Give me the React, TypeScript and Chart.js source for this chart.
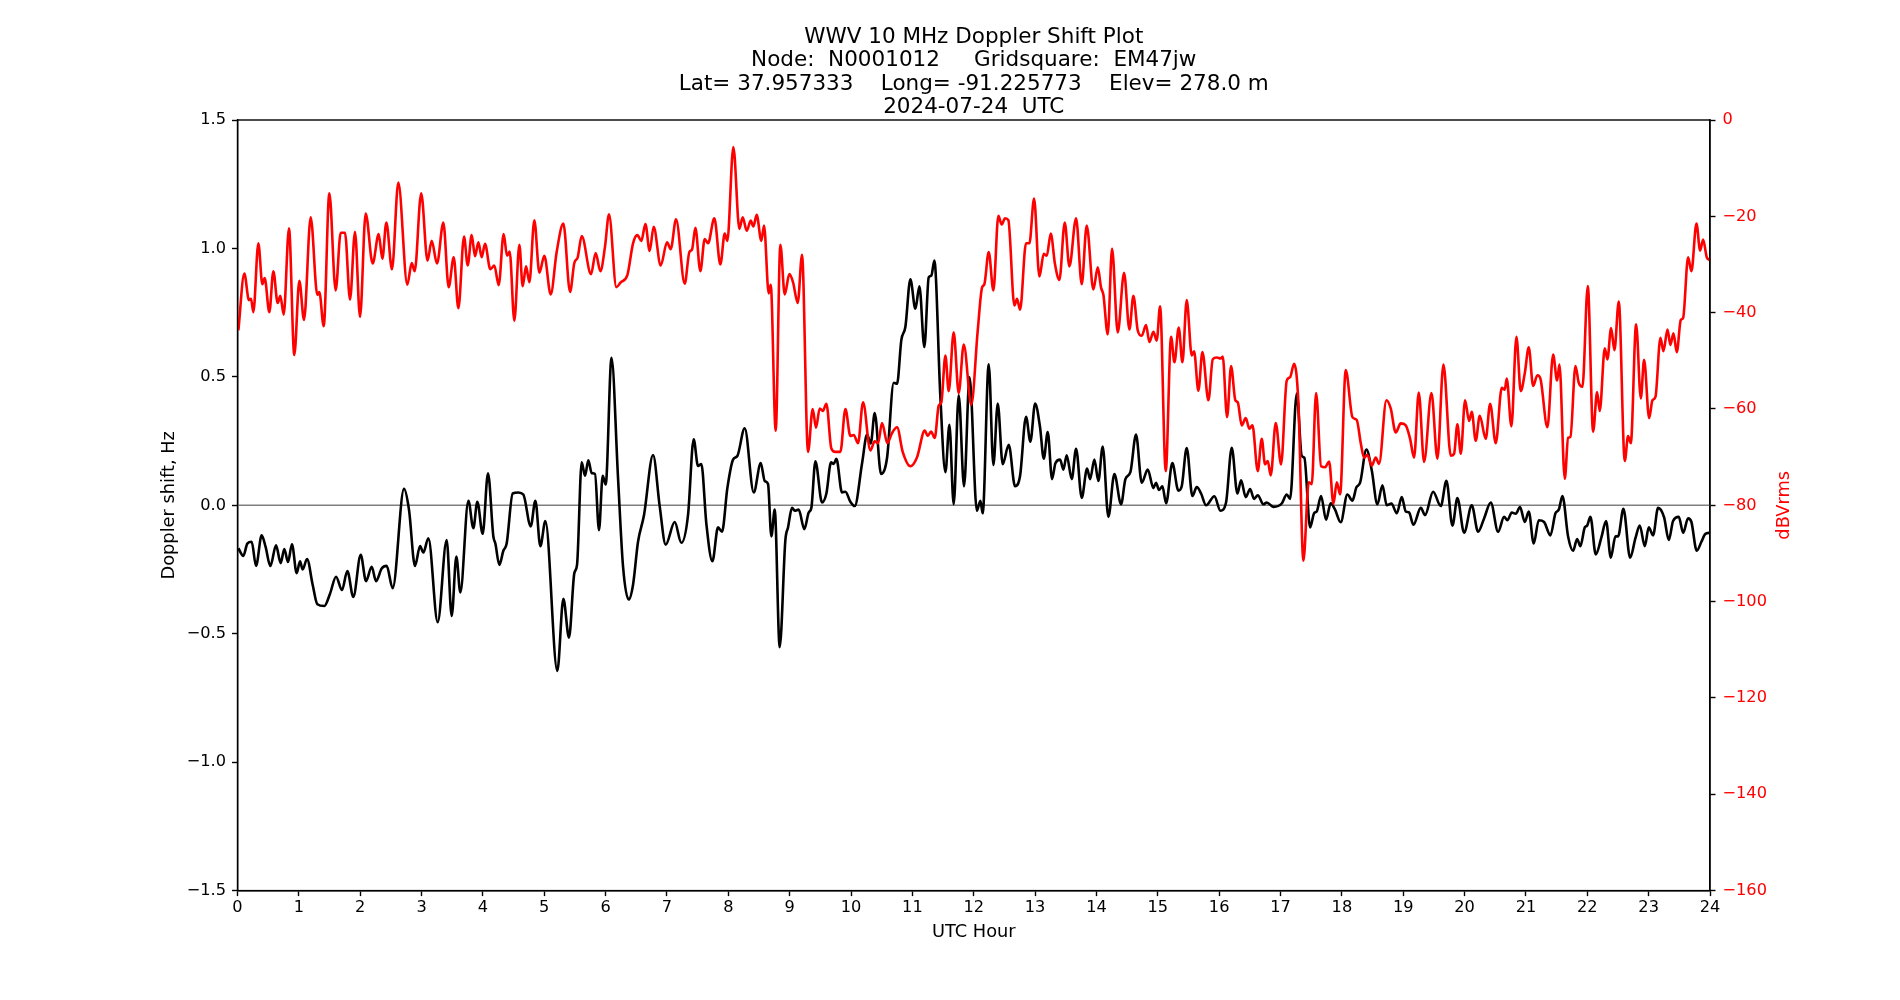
import React, { useEffect, useRef } from "react";
import { Chart, registerables } from "chart.js";

Chart.register(...registerables);

// ---------- text ----------
const titleLines = [
  "WWV 10 MHz Doppler Shift Plot",
  "Node:  N0001012     Gridsquare:  EM47jw",
  "Lat= 37.957333    Long= -91.225773    Elev= 278.0 m",
  "2024-07-24  UTC",
];
const xAxisLabel = "UTC Hour";
const leftAxisLabel = "Doppler shift, Hz";
const rightAxisLabel = "dBVrms";

// ---------- tick values / labels ----------
const xTickValues = [0, 1, 2, 3, 4, 5, 6, 7, 8, 9, 10, 11, 12, 13, 14, 15, 16, 17, 18, 19, 20, 21, 22, 23, 24];
const xTickLabels = ["0", "1", "2", "3", "4", "5", "6", "7", "8", "9", "10", "11", "12", "13", "14", "15", "16", "17", "18", "19", "20", "21", "22", "23", "24"];
const leftTickValues = [-1.5, -1.0, -0.5, 0.0, 0.5, 1.0, 1.5];
const leftTickLabels = ["\u22121.5", "\u22121.0", "\u22120.5", "0.0", "0.5", "1.0", "1.5"];
const rightTickValues = [-160, -140, -120, -100, -80, -60, -40, -20, 0];
const rightTickLabels = ["\u2212160", "\u2212140", "\u2212120", "\u2212100", "\u221280", "\u221260", "\u221240", "\u221220", "0"];

// ---------- Doppler shift series (black, left axis) ----------
const dopplerHours = [
  0.014, 0.095, 0.160, 0.231, 0.302, 0.394, 0.459, 0.535, 0.628, 0.704, 0.763, 0.823, 0.888, 0.964,
  1.019, 1.062, 1.133, 1.225, 1.301, 1.415, 1.508, 1.606, 1.703, 1.790, 1.888, 2.008, 2.095, 2.187,
  2.258, 2.350, 2.431, 2.529, 2.714, 2.795, 2.893, 2.975, 3.029, 3.111, 3.263, 3.409, 3.491, 3.567,
  3.632, 3.763, 3.844, 3.909, 3.996, 4.083, 4.170, 4.203, 4.268, 4.333, 4.387, 4.485, 4.578, 4.659,
  4.779, 4.855, 4.936, 5.018, 5.213, 5.311, 5.403, 5.490, 5.534, 5.610, 5.664, 5.718, 5.773, 5.827,
  5.892, 5.952, 6.001, 6.096, 6.202, 6.284, 6.376, 6.447, 6.528, 6.626, 6.773, 6.881, 6.979, 7.126,
  7.234, 7.343, 7.435, 7.506, 7.560, 7.642, 7.740, 7.832, 7.897, 7.984, 8.077, 8.147, 8.267, 8.414,
  8.528, 8.593, 8.647, 8.701, 8.756, 8.837, 8.930, 8.973, 9.038, 9.082, 9.147, 9.239, 9.310, 9.353,
  9.419, 9.527, 9.598, 9.674, 9.718, 9.761, 9.853, 9.908, 9.989, 10.060, 10.180, 10.261, 10.321,
  10.386, 10.489, 10.587, 10.696, 10.750, 10.820, 10.886, 10.967, 11.049, 11.114, 11.195, 11.266,
  11.309, 11.358, 11.456, 11.538, 11.603, 11.673, 11.755, 11.842, 11.932, 12.051, 12.108, 12.146,
  12.244, 12.320, 12.391, 12.472, 12.570, 12.673, 12.755, 12.852, 12.923, 13.000, 13.081, 13.141,
  13.206, 13.276, 13.331, 13.407, 13.461, 13.515, 13.597, 13.668, 13.760, 13.847, 13.896, 13.966,
  14.031, 14.102, 14.194, 14.292, 14.401, 14.472, 14.553, 14.645, 14.738, 14.836, 14.928, 14.971,
  15.020, 15.075, 15.135, 15.237, 15.335, 15.390, 15.471, 15.564, 15.634, 15.705, 15.787, 15.922,
  16.020, 16.112, 16.205, 16.297, 16.357, 16.433, 16.504, 16.569, 16.629, 16.721, 16.775, 16.884,
  17.020, 17.101, 17.156, 17.265, 17.346, 17.389, 17.482, 17.547, 17.590, 17.661, 17.742, 17.818,
  17.889, 17.981, 18.090, 18.172, 18.237, 18.297, 18.400, 18.487, 18.579, 18.661, 18.731, 18.808,
  18.895, 18.976, 19.041, 19.095, 19.166, 19.286, 19.356, 19.487, 19.612, 19.704, 19.802, 19.883,
  19.992, 20.117, 20.220, 20.318, 20.427, 20.546, 20.644, 20.698, 20.769, 20.834, 20.904, 20.981,
  21.046, 21.127, 21.209, 21.296, 21.399, 21.481, 21.535, 21.595, 21.687, 21.769, 21.834, 21.888,
  21.959, 21.997, 22.051, 22.138, 22.230, 22.306, 22.383, 22.459, 22.502, 22.589, 22.698, 22.785,
  22.855, 22.937, 23.002, 23.072, 23.154, 23.252, 23.328, 23.398, 23.491, 23.562, 23.643, 23.697,
  23.784, 23.860, 23.925, 23.997,
];
const dopplerHz = [
  -0.167, -0.197, -0.149, -0.142, -0.236, -0.117, -0.163, -0.236, -0.156, -0.225, -0.170, -0.221, -0.152, -0.264,
  -0.218, -0.250, -0.209, -0.309, -0.385, -0.392, -0.344, -0.278, -0.330, -0.256, -0.357, -0.193, -0.295, -0.239,
  -0.295, -0.246, -0.236, -0.323, 0.064, -0.017, -0.236, -0.159, -0.184, -0.128, -0.455, -0.135, -0.431, -0.200,
  -0.339, 0.018, -0.089, 0.014, -0.111, 0.125, -0.121, -0.149, -0.232, -0.177, -0.149, 0.046, 0.050, 0.042,
  -0.082, 0.018, -0.159, -0.061, -0.645, -0.364, -0.515, -0.264, -0.232, 0.167, 0.115, 0.175, 0.125, 0.122,
  -0.097, 0.115, 0.081, 0.574, 0.108, -0.239, -0.367, -0.309, -0.142, -0.038, 0.196, -0.003, -0.153, -0.065,
  -0.146, -0.038, 0.257, 0.153, 0.161, -0.072, -0.218, -0.086, -0.103, 0.067, 0.178, 0.192, 0.300, 0.050,
  0.164, 0.095, 0.083, -0.121, -0.017, -0.552, -0.135, -0.086, -0.010, -0.021, -0.017, -0.093, -0.028, -0.010,
  0.171, 0.011, 0.046, 0.167, 0.161, 0.181, 0.050, 0.053, 0.014, -0.003, 0.164, 0.275, 0.241,
  0.359, 0.122, 0.185, 0.477, 0.473, 0.644, 0.695, 0.880, 0.765, 0.853, 0.616, 0.887,
  0.894, 0.953, 0.421, 0.129, 0.313, 0.004, 0.428, 0.074, 0.498, -0.021, 0.018, -0.031,
  0.549, 0.157, 0.396, 0.160, 0.236, 0.074, 0.115, 0.345, 0.248, 0.396, 0.303, 0.181,
  0.285, 0.102, 0.164, 0.178, 0.139, 0.195, 0.102, 0.220, 0.029, 0.143, 0.102, 0.178,
  0.095, 0.229, -0.045, 0.122, 0.004, 0.102, 0.129, 0.275, 0.088, 0.139, 0.067, 0.088,
  0.060, 0.074, 0.008, 0.164, 0.057, 0.074, 0.223, 0.036, 0.071, 0.046, 0.000, 0.035,
  -0.021, 0.011, 0.224, 0.046, 0.097, 0.032, 0.063, 0.025, 0.039, 0.004, 0.011, -0.006,
  0.007, 0.042, 0.025, 0.435, 0.192, 0.185, -0.086, -0.031, -0.024, 0.036, -0.056, 0.008,
  -0.017, -0.066, 0.042, 0.018, 0.070, 0.088, 0.217, 0.136, 0.004, 0.078, 0.000, 0.007,
  -0.031, 0.032, -0.024, -0.028, -0.076, -0.010, -0.038, 0.053, -0.003, 0.095, -0.079, 0.028,
  -0.107, 0.000, -0.103, -0.051, 0.011, -0.103, -0.045, -0.058, -0.028, -0.033, -0.007, -0.065,
  -0.024, -0.149, -0.058, -0.065, -0.117, -0.031, -0.017, 0.036, -0.121, -0.177, -0.131, -0.159,
  -0.086, -0.079, -0.045, -0.191, -0.125, -0.061, -0.204, -0.121, -0.121, -0.014, -0.204, -0.128,
  -0.079, -0.159, -0.086, -0.117, -0.010, -0.047, -0.135, -0.061, -0.045, -0.107, -0.051, -0.065,
  -0.177, -0.142, -0.111, -0.107,
];

// ---------- signal level series (red, right axis) ----------
const powerHours = [
  0.014, 0.111, 0.187, 0.220, 0.258, 0.340, 0.405, 0.443, 0.519, 0.584, 0.655, 0.698, 0.753, 0.839,
  0.926, 1.008, 1.084, 1.193, 1.301, 1.334, 1.405, 1.497, 1.600, 1.682, 1.752, 1.834, 1.915, 1.997,
  2.089, 2.203, 2.301, 2.361, 2.426, 2.518, 2.621, 2.768, 2.839, 2.888, 2.994, 3.097, 3.165, 3.252,
  3.355, 3.442, 3.524, 3.600, 3.692, 3.752, 3.817, 3.871, 3.926, 3.980, 4.034, 4.121, 4.186, 4.257,
  4.338, 4.393, 4.436, 4.512, 4.594, 4.648, 4.703, 4.757, 4.838, 4.920, 5.001, 5.105, 5.202, 5.311,
  5.420, 5.490, 5.545, 5.610, 5.762, 5.838, 5.914, 5.990, 6.055, 6.175, 6.246, 6.354, 6.447, 6.517,
  6.582, 6.648, 6.718, 6.783, 6.898, 7.001, 7.061, 7.148, 7.289, 7.365, 7.408, 7.463, 7.544, 7.615,
  7.669, 7.772, 7.870, 7.941, 7.984, 8.082, 8.180, 8.234, 8.300, 8.365, 8.408, 8.462, 8.538, 8.582,
  8.658, 8.691, 8.772, 8.848, 8.919, 8.995, 9.055, 9.131, 9.201, 9.299, 9.375, 9.429, 9.489, 9.540,
  9.598, 9.679, 9.745, 9.826, 9.908, 9.989, 10.044, 10.114, 10.196, 10.315, 10.386, 10.440, 10.505,
  10.592, 10.668, 10.750, 10.842, 10.967, 11.076, 11.201, 11.250, 11.304, 11.364, 11.429, 11.472,
  11.538, 11.592, 11.673, 11.755, 11.837, 11.960, 12.065, 12.135, 12.173, 12.244, 12.320, 12.401,
  12.456, 12.510, 12.564, 12.662, 12.706, 12.755, 12.852, 12.907, 12.983, 13.070, 13.141, 13.190,
  13.255, 13.325, 13.396, 13.483, 13.559, 13.668, 13.760, 13.841, 13.950, 14.021, 14.075, 14.113,
  14.184, 14.254, 14.347, 14.450, 14.537, 14.602, 14.673, 14.738, 14.808, 14.863, 14.928, 14.982,
  15.037, 15.129, 15.216, 15.271, 15.341, 15.401, 15.471, 15.553, 15.591, 15.661, 15.727, 15.825,
  15.895, 15.960, 16.026, 16.058, 16.129, 16.194, 16.264, 16.303, 16.368, 16.433, 16.493, 16.542,
  16.629, 16.694, 16.748, 16.792, 16.841, 16.922, 17.009, 17.101, 17.156, 17.221, 17.291, 17.373,
  17.460, 17.509, 17.580, 17.661, 17.726, 17.792, 17.862, 17.917, 17.971, 18.063, 18.172, 18.242,
  18.308, 18.362, 18.416, 18.487, 18.552, 18.606, 18.726, 18.796, 18.878, 18.959, 19.041, 19.112,
  19.177, 19.253, 19.340, 19.460, 19.557, 19.655, 19.775, 19.829, 19.883, 19.938, 20.008, 20.073,
  20.117, 20.182, 20.247, 20.345, 20.416, 20.508, 20.606, 20.655, 20.687, 20.763, 20.845, 20.915,
  20.981, 21.046, 21.117, 21.187, 21.236, 21.350, 21.443, 21.508, 21.546, 21.633, 21.687, 21.725,
  21.807, 21.861, 21.921, 22.008, 22.095, 22.160, 22.203, 22.285, 22.328, 22.388, 22.442, 22.513,
  22.611, 22.665, 22.709, 22.796, 22.872, 22.926, 23.008, 23.062, 23.111, 23.192, 23.241, 23.307,
  23.355, 23.404, 23.459, 23.524, 23.562, 23.643, 23.697, 23.779, 23.839, 23.888, 23.947, 23.997,
];
const powerDb = [
  -43.7, -31.9, -37.4, -37.1, -39.9, -25.6, -34.1, -32.8, -39.9, -31.4, -38.0, -36.5, -40.4, -22.5,
  -48.8, -33.4, -41.5, -20.2, -36.3, -35.7, -42.8, -15.2, -35.4, -23.4, -23.4, -37.3, -23.2, -40.9,
  -19.4, -29.8, -23.7, -28.8, -21.3, -31.0, -13.0, -34.2, -29.7, -31.4, -15.2, -29.2, -25.1, -29.8,
  -21.3, -34.7, -28.5, -39.1, -24.2, -30.2, -23.9, -28.3, -25.4, -28.5, -25.7, -31.0, -30.2, -34.3,
  -23.7, -28.2, -27.3, -41.7, -25.9, -34.5, -30.4, -33.7, -20.8, -31.7, -28.2, -36.2, -27.4, -21.5,
  -35.7, -29.7, -28.5, -24.1, -32.0, -27.6, -31.4, -26.3, -19.6, -34.7, -33.7, -32.2, -25.6, -23.9,
  -25.1, -21.6, -27.2, -22.2, -30.2, -25.4, -26.8, -20.6, -34.0, -27.4, -26.9, -22.4, -31.4, -24.7,
  -25.6, -20.4, -30.0, -23.6, -25.1, -5.6, -22.6, -20.2, -23.0, -20.9, -22.1, -19.7, -25.1, -21.9,
  -36.0, -34.2, -64.5, -25.9, -36.2, -32.0, -33.7, -38.0, -28.0, -68.9, -60.0, -63.9, -59.9, -60.4,
  -58.9, -68.2, -68.9, -68.9, -60.0, -65.6, -65.4, -67.1, -58.6, -68.6, -66.7, -67.1, -62.9,
  -67.1, -65.0, -63.8, -68.9, -71.9, -70.0, -64.5, -65.6, -64.7, -66.0, -59.3, -58.6,
  -48.9, -56.3, -44.1, -56.7, -46.6, -59.1, -43.7, -34.8, -34.1, -27.4, -35.4, -19.9,
  -21.7, -20.4, -20.8, -38.5, -37.1, -39.4, -25.6, -25.6, -16.3, -32.5, -27.8, -28.2,
  -23.6, -30.0, -33.2, -21.3, -30.4, -20.4, -34.1, -21.9, -35.2, -30.6, -34.8, -36.3,
  -44.5, -26.7, -44.1, -31.7, -43.5, -36.5, -43.7, -44.8, -42.6, -46.1, -44.0, -45.8,
  -38.7, -72.9, -45.0, -50.3, -43.1, -50.3, -37.4, -48.9, -48.0, -56.2, -48.2, -58.2,
  -49.7, -49.3, -49.5, -49.1, -61.7, -51.1, -58.2, -58.6, -63.4, -61.9, -64.1, -63.4,
  -72.9, -66.2, -71.5, -70.8, -73.8, -62.9, -71.5, -54.1, -53.4, -50.6, -58.6, -91.5,
  -75.2, -75.6, -56.7, -71.9, -72.1, -70.9, -79.7, -75.2, -77.7, -51.9, -61.7, -62.3,
  -67.1, -70.1, -69.5, -71.8, -70.1, -71.4, -58.2, -59.9, -64.9, -63.0, -63.4, -66.2,
  -70.1, -56.6, -71.0, -56.7, -70.3, -50.8, -69.7, -69.3, -63.2, -69.3, -58.2, -62.5,
  -60.6, -66.6, -61.4, -66.2, -58.9, -67.1, -55.6, -56.0, -53.7, -63.6, -45.0, -56.3,
  -52.6, -47.2, -55.2, -53.0, -53.7, -63.8, -48.7, -54.1, -50.8, -74.5, -66.0, -65.8,
  -51.1, -54.6, -55.4, -34.5, -64.7, -56.5, -60.4, -47.4, -49.7, -43.2, -47.8, -37.7,
  -70.8, -65.6, -67.1, -42.4, -57.8, -49.8, -61.9, -58.2, -57.5, -45.2, -48.0, -43.5,
  -46.7, -44.3, -48.2, -41.5, -41.1, -28.5, -31.4, -21.5, -27.1, -24.8, -28.5, -29.1,
];

// ---------- zero reference line ----------
const zeroLineHours = [0, 24];
const zeroLineHz = [0, 0];

const FONT = "'DejaVu Sans', 'Liberation Sans', sans-serif";

const decorPlugin = {
  id: "decor",
  afterDraw(chart: any) {
    const { ctx, chartArea: a } = chart;
    const cx = (a.left + a.right) / 2;
    const cy = (a.top + a.bottom) / 2;
    ctx.save();
    // frame (spines)
    ctx.strokeStyle = "#000";
    ctx.lineWidth = 1.4;
    ctx.strokeRect(a.left, a.top, a.right - a.left, a.bottom - a.top);
    // title
    ctx.fillStyle = "#000";
    ctx.textAlign = "center";
    ctx.textBaseline = "alphabetic";
    ctx.font = `21.5px ${FONT}`;
    titleLines.forEach((t, i) => ctx.fillText(t, cx, 43 + i * 23.4));
    // x label
    ctx.font = `17.8px ${FONT}`;
    ctx.fillText(xAxisLabel, cx, 937);
    // left y label
    ctx.save();
    ctx.translate(173.5, cy);
    ctx.rotate(-Math.PI / 2);
    ctx.fillText(leftAxisLabel, 0, 0);
    ctx.restore();
    // right y label
    ctx.save();
    ctx.fillStyle = "#ff0000";
    ctx.translate(1789, cy);
    ctx.rotate(-Math.PI / 2);
    ctx.fillText(rightAxisLabel, 0, 0);
    ctx.restore();
    ctx.restore();
  },
};

export default function App() {
  const canvasRef = useRef<HTMLCanvasElement | null>(null);

  useEffect(() => {
    const canvas = canvasRef.current;
    if (!canvas) return;
    const tickFont = { family: FONT, size: 16.2 };
    const chart = new Chart(canvas, {
      type: "line",
      data: {
        datasets: [
          {
            label: "dBVrms",
            data: powerHours.map((x, i) => ({ x, y: powerDb[i] })),
            yAxisID: "yR",
            borderColor: "#ff0000",
            borderWidth: 2.6,
            pointRadius: 0,
            cubicInterpolationMode: "monotone",
            fill: false,
            order: 0,
          },
          {
            label: "Doppler",
            data: dopplerHours.map((x, i) => ({ x, y: dopplerHz[i] })),
            yAxisID: "y",
            borderColor: "#000000",
            borderWidth: 2.6,
            pointRadius: 0,
            cubicInterpolationMode: "monotone",
            fill: false,
            order: 1,
          },
          {
            label: "zero",
            data: zeroLineHours.map((x, i) => ({ x, y: zeroLineHz[i] })),
            yAxisID: "y",
            borderColor: "#808080",
            borderWidth: 1.6,
            pointRadius: 0,
            tension: 0,
            fill: false,
            order: 2,
          },
        ],
      } as any,
      options: {
        responsive: false,
        animation: false,
        devicePixelRatio: 1,
        layout: { padding: { top: 120, left: 0, right: 0, bottom: 0 } },
        plugins: {
          legend: { display: false },
          tooltip: { enabled: false },
          title: { display: false },
        },
        scales: {
          x: {
            type: "linear",
            position: "bottom",
            min: 0,
            max: 24,
            afterBuildTicks: (s: any) => {
              s.ticks = xTickValues.map((v) => ({ value: v }));
            },
            afterFit: (s: any) => {
              s.height = 109.4;
            },
            ticks: {
              callback: (_v: any, i: number) => xTickLabels[i],
              font: tickFont,
              color: "#000",
              padding: 2,
              maxRotation: 0,
              autoSkip: false,
            },
            grid: { drawOnChartArea: false, tickLength: 5.5, tickColor: "#000", tickWidth: 1.4 },
            border: { display: true, color: "#000", width: 1.4 },
          },
          y: {
            type: "linear",
            position: "left",
            min: -1.5,
            max: 1.5,
            afterBuildTicks: (s: any) => {
              s.ticks = leftTickValues.map((v) => ({ value: v }));
            },
            afterFit: (s: any) => {
              s.width = 237.5;
            },
            ticks: {
              callback: (_v: any, i: number) => leftTickLabels[i],
              font: tickFont,
              color: "#000",
              padding: 6,
              autoSkip: false,
            },
            grid: { drawOnChartArea: false, tickLength: 5.5, tickColor: "#000", tickWidth: 1.4 },
            border: { display: true, color: "#000", width: 1.4 },
          },
          yR: {
            type: "linear",
            position: "right",
            min: -160,
            max: 0,
            afterBuildTicks: (s: any) => {
              s.ticks = rightTickValues.map((v) => ({ value: v }));
            },
            afterFit: (s: any) => {
              s.width = 190;
            },
            ticks: {
              callback: (_v: any, i: number) => rightTickLabels[i],
              font: tickFont,
              color: "#ff0000",
              padding: 7,
              autoSkip: false,
            },
            grid: { drawOnChartArea: false, tickLength: 5.5, tickColor: "#000", tickWidth: 1.4 },
            border: { display: true, color: "#000", width: 1.4 },
          },
        },
      } as any,
      plugins: [decorPlugin],
    });
    return () => chart.destroy();
  }, []);

  return (
    <div style={{ position: "absolute", left: 0, top: 0, width: 1900, height: 1000, background: "#fff" }}>
      <canvas ref={canvasRef} width={1900} height={1000} style={{ display: "block" }} />
    </div>
  );
}
